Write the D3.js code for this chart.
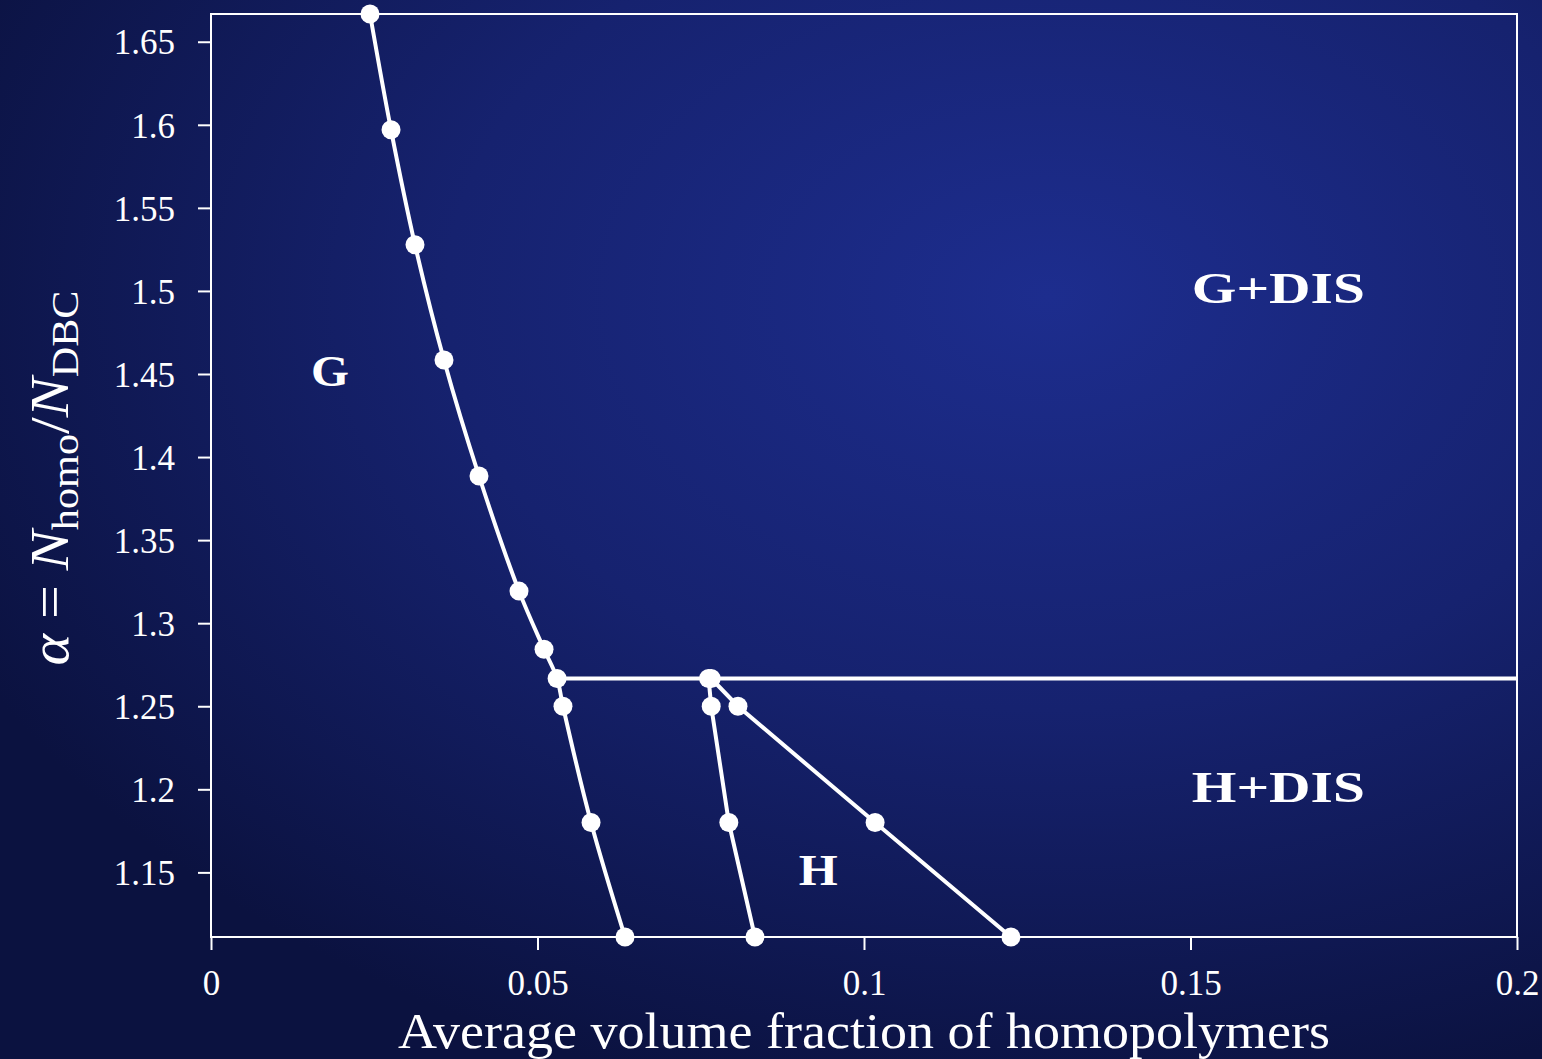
<!DOCTYPE html>
<html><head><meta charset="utf-8">
<script src="https://cdn.jsdelivr.net/npm/d3@7"></script>
<style>html,body{margin:0;padding:0;background:#0c1444;overflow:hidden}</style>
</head><body>
<svg id="c" width="1542" height="1059"></svg>
<script>
// Data
const gPhi   = [0.02435,0.02757,0.03124,0.03568,0.04104,0.04717,0.0510,0.0530,0.0539,0.0582,0.0634];
const gAlpha = [1.6667,1.5970,1.5278,1.4584,1.3886,1.3193,1.2843,1.2667,1.2500,1.1800,1.1111];
const h1Phi   = [0.0762,0.0766,0.0793,0.0833];
const h1Alpha = [1.2667,1.2500,1.1800,1.1111];
const h2Phi   = [0.0766,0.0807,0.1017,0.1225];
const h2Alpha = [1.2667,1.2500,1.1800,1.1111];
const triplePhi = [0.0530,0.2];
const tripleAlpha = [1.2667,1.2667];
const xTicks = [0,0.05,0.1,0.15,0.2];
const xTickLabels = ["0","0.05","0.1","0.15","0.2"];
const yTicks = [1.15,1.2,1.25,1.3,1.35,1.4,1.45,1.5,1.55,1.6,1.65];
const yTickLabels = ["1.15","1.2","1.25","1.3","1.35","1.4","1.45","1.5","1.55","1.6","1.65"];
const regionLabels = ["G","H","G+DIS","H+DIS"];
const regionPhi = [0.0153,0.0900,0.1502,0.1502];
const regionAlpha = [1.4428,1.1422,1.4928,1.1922];
const regionWidths = [38,39,173,173];

const svg = d3.select("#c");
const defs = svg.append("defs");
const rg = defs.append("radialGradient").attr("id","bg")
  .attr("cx","0.68").attr("cy","0.28").attr("r","0.78")
  .attr("gradientUnits","objectBoundingBox");
rg.append("stop").attr("offset","0").attr("stop-color","#1d2d8e");
rg.append("stop").attr("offset","0.5").attr("stop-color","#16226f");
rg.append("stop").attr("offset","1").attr("stop-color","#0b1240");
svg.append("rect").attr("width",1542).attr("height",1059).attr("fill","url(#bg)");

const x = d3.scaleLinear().domain([0,0.2]).range([211,1517]);
const y = d3.scaleLinear().domain([1.1111,1.6667]).range([937,14]);
const serif = "'Liberation Serif','DejaVu Serif',serif";

// frame
svg.append("rect").attr("x",x(0)).attr("y",y(1.6667)).attr("width",x(0.2)-x(0)).attr("height",y(1.1111)-y(1.6667))
  .attr("fill","none").attr("stroke","#fff").attr("stroke-width",2);

// axes
const xa = svg.append("g").attr("transform",`translate(0,${y(1.1111)})`)
  .call(d3.axisBottom(x).tickValues(xTicks).tickFormat((d,i)=>xTickLabels[i]).tickSize(13).tickPadding(20));
const ya = svg.append("g").attr("transform",`translate(${x(0)},0)`)
  .call(d3.axisLeft(y).tickValues(yTicks).tickFormat((d,i)=>yTickLabels[i]).tickSize(13).tickPadding(23));
[xa,ya].forEach(a=>{
  a.select(".domain").remove();
  a.selectAll("line").attr("stroke","#fff").attr("stroke-width",2);
  a.selectAll("text").attr("fill","#fff").attr("font-family",serif).attr("font-size",35);
});
xa.selectAll("text").attr("dy","0.71em");
ya.selectAll("text").attr("dy","0.35em");

// lines
const line = d3.line().x(d=>x(d[0])).y(d=>y(d[1]));
const zip = (a,b)=>a.map((v,i)=>[v,b[i]]);
svg.append("path").datum(zip(triplePhi,tripleAlpha)).attr("d",line)
  .attr("fill","none").attr("stroke","#fff").attr("stroke-width",4);
svg.append("path").datum(zip(gPhi,gAlpha)).attr("d",d3.line().x(d=>x(d[0])).y(d=>y(d[1])).curve(d3.curveCatmullRom))
  .attr("fill","none").attr("stroke","#fff").attr("stroke-width",4);
[zip(h1Phi,h1Alpha),zip(h2Phi,h2Alpha)].forEach(dd=>{
  svg.append("path").datum(dd).attr("d",line).attr("fill","none").attr("stroke","#fff").attr("stroke-width",4);
});
const pts = [].concat(zip(gPhi,gAlpha),zip(h1Phi,h1Alpha),zip(h2Phi,h2Alpha));
svg.append("g").selectAll("circle").data(pts).join("circle")
  .attr("cx",d=>x(d[0])).attr("cy",d=>y(d[1])).attr("r",9.5).attr("fill","#fff");

// region labels
svg.append("g").selectAll("text").data(regionLabels).join("text")
  .attr("x",(d,i)=>x(regionPhi[i])).attr("y",(d,i)=>y(regionAlpha[i]))
  .attr("font-family",serif).attr("font-weight","bold").attr("font-size",45)
  .attr("textLength",(d,i)=>regionWidths[i]).attr("lengthAdjust","spacingAndGlyphs")
  .attr("fill","#fff").text(d=>d);

// x label
svg.append("text").attr("x",864).attr("y",1048).attr("text-anchor","middle")
  .attr("font-family",serif).attr("font-size",50).attr("fill","#fff")
  .attr("textLength",932).attr("lengthAdjust","spacingAndGlyphs")
  .text("Average volume fraction of homopolymers");

// y label
const yl = svg.append("text").attr("transform","translate(68,478) rotate(-90)")
  .attr("text-anchor","middle").attr("font-family",serif).attr("font-size",54).attr("fill","#fff")
  .attr("textLength",375).attr("lengthAdjust","spacingAndGlyphs");
yl.append("tspan").attr("font-style","italic").text("α");
yl.append("tspan").text(" = ");
yl.append("tspan").attr("font-style","italic").text("N");
yl.append("tspan").attr("font-size",38).attr("dy",10).text("homo");
yl.append("tspan").attr("dy",-10).text("/");
yl.append("tspan").attr("font-style","italic").text("N");
yl.append("tspan").attr("font-size",38).attr("dy",10).text("DBC");
</script>
</body></html>
